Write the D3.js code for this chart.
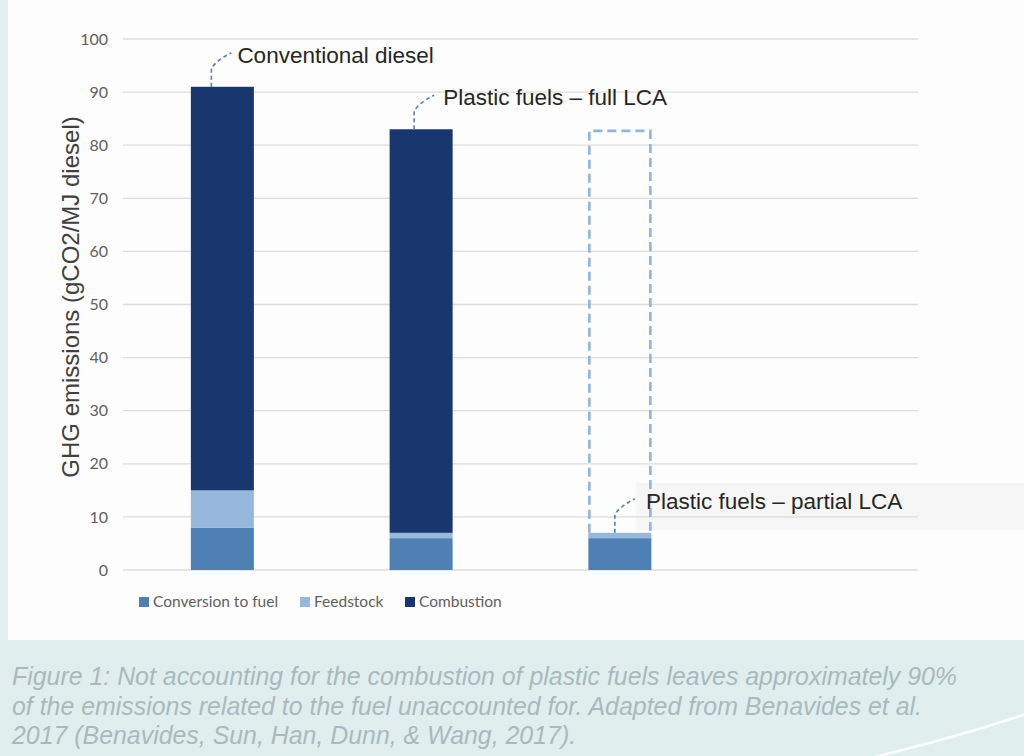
<!DOCTYPE html>
<html>
<head>
<meta charset="utf-8">
<script src="https://cdn.jsdelivr.net/npm/d3@7"></script>
<style>
  body { margin: 0; background: #fdfdfd; }
  svg { display: block; }
</style>
</head>
<body>
<div id="chart-area"></div>
<script>
// Datos (gCO2/MJ diesel)
const categories = ["Conventional diesel", "Plastic fuels – full LCA", "Plastic fuels – partial LCA", ""];
const seriesNames = ["Conversion to fuel", "Feedstock", "Combustion"];
const conversion = [8, 6, 6, 0];
const feedstock = [7, 1, 1, 0];
const combustion = [76, 76, 0, 0];
// barra punteada: total sin contabilizar en el LCA parcial
const partialOutline = [0, 0, 82.7, 0];
const yTicks = [0, 10, 20, 30, 40, 50, 60, 70, 80, 90, 100];
const captionLines = [
    "Figure 1: Not accounting for the combustion of plastic fuels leaves approximately 90%",
    "of the emissions related to the fuel unaccounted for. Adapted from Benavides et al.",
    "2017 (Benavides, Sun, Han, Dunn, & Wang, 2017)."
];

const W = 1024, H = 756;
const colors = ["#4f80b4", "#96b8dc", "#17376e"];

const svg = d3.select("#chart-area").append("svg")
    .attr("width", W)
    .attr("height", H);

// fondo
svg.append("rect").attr("width", W).attr("height", H).attr("fill", "#fdfdfd");
svg.append("rect").attr("x", 0).attr("y", 0).attr("width", 8).attr("height", H).attr("fill", "#e2f0ef");
svg.append("rect").attr("x", 0).attr("y", 640).attr("width", W).attr("height", H - 640).attr("fill", "#e0efee");
svg.append("path")
    .attr("d", "M 870 758 Q 955 738 1026 714")
    .attr("fill", "none").attr("stroke", "#ffffff").attr("stroke-width", 2.5).attr("opacity", 0.9);

// caja gris detras de la etiqueta parcial
svg.append("rect").attr("x", 636).attr("y", 483).attr("width", W - 636).attr("height", 47).attr("fill", "#f6f6f6");

const x0 = d3.scaleBand().domain(categories).range([123, 918]);
const y = d3.scaleLinear().domain([0, 100]).range([570, 39]);
const barW = x0.bandwidth() * 0.317;
const cx = d => x0(d) + x0.bandwidth() / 2;

// rejilla
svg.append("g").selectAll("line")
    .data(yTicks).enter().append("line")
    .attr("x1", 123).attr("x2", 918)
    .attr("y1", d => y(d)).attr("y2", d => y(d))
    .attr("stroke", "#dcdcdc").attr("stroke-width", 1.3);

// eje y
const yAxis = d3.axisLeft(y).tickValues(yTicks).tickSize(0).tickPadding(0);
const gy = svg.append("g").attr("transform", "translate(108,0)").call(yAxis);
gy.select(".domain").remove();
gy.selectAll("text")
    .attr("font-family", "Lato, 'Open Sans', sans-serif")
    .attr("font-size", 16)
    .attr("fill", "#5f5f5f");

svg.append("text")
    .attr("transform", "translate(79,297) rotate(-90)")
    .attr("text-anchor", "middle")
    .attr("font-family", "'Liberation Sans', Arial, sans-serif")
    .attr("font-size", 24)
    .attr("fill", "#404040")
    .text("GHG emissions (gCO2/MJ diesel)");

// apilar series
const table = categories.map((c, i) => ({
    cat: c,
    "Conversion to fuel": conversion[i],
    "Feedstock": feedstock[i],
    "Combustion": combustion[i]
}));
const stacked = d3.stack().keys(seriesNames)(table);

svg.append("g").selectAll("g")
    .data(stacked).enter().append("g")
    .attr("fill", (d, i) => colors[i])
    .selectAll("rect")
    .data(d => d.filter(p => p[1] > p[0]))
    .enter().append("rect")
    .attr("x", d => cx(d.data.cat) - barW / 2)
    .attr("width", barW)
    .attr("y", d => y(d[1]))
    .attr("height", d => y(d[0]) - y(d[1]));

// contorno punteado
categories.forEach((c, i) => {
    if (!partialOutline[i]) return;
    const top = conversion[i] + feedstock[i];
    svg.append("path")
        .attr("d", `M ${cx(c) - barW / 2 + 1} ${y(top)} V ${y(partialOutline[i])} H ${cx(c) + barW / 2 - 1} V ${y(top)}`)
        .attr("fill", "none")
        .attr("stroke", "#8fb4de")
        .attr("stroke-width", 2.6)
        .attr("stroke-dasharray", "9,5");
});

// etiquetas con lineas guia
const labelTops = [91, 83, 7];
const leadDx = [-11, -7, -5];
const textDx = [26, 29, 31];
categories.slice(0, 3).forEach((c, i) => {
    const bx = cx(c) + leadDx[i];
    const by = y(labelTops[i]);
    svg.append("path")
        .attr("d", `M ${bx} ${by} V ${by - 18} Q ${bx + 4} ${by - 26} ${bx + 20} ${by - 34}`)
        .attr("fill", "none")
        .attr("stroke", "#4f80b4")
        .attr("stroke-width", 1.6)
        .attr("stroke-dasharray", "4,3");
    svg.append("text")
        .attr("x", bx + textDx[i])
        .attr("y", by - 24)
        .attr("font-family", "'Liberation Sans', Arial, sans-serif")
        .attr("font-size", 22.5)
        .attr("fill", "#262626")
        .text(c);
});

// leyenda
const legendX = [139, 300, 405];
const legend = svg.append("g").selectAll("g")
    .data(seriesNames).enter().append("g")
    .attr("transform", (d, i) => `translate(${legendX[i]},597)`);
legend.append("rect").attr("width", 10).attr("height", 10).attr("fill", (d, i) => colors[i]);
legend.append("text")
    .attr("x", 14).attr("y", 10)
    .attr("font-family", "Lato, 'Open Sans', sans-serif")
    .attr("font-size", 15.5)
    .attr("fill", "#5f5f5f")
    .text(d => d);

// pie de figura
svg.append("g").selectAll("text")
    .data(captionLines).enter().append("text")
    .attr("x", 12)
    .attr("y", (d, i) => 685 + i * 29.5)
    .attr("font-family", "'Liberation Sans', Arial, sans-serif")
    .attr("font-style", "italic")
    .attr("font-size", 24.9)
    .attr("fill", "#a9babd")
    .text(d => d);
</script>
</body>
</html>
